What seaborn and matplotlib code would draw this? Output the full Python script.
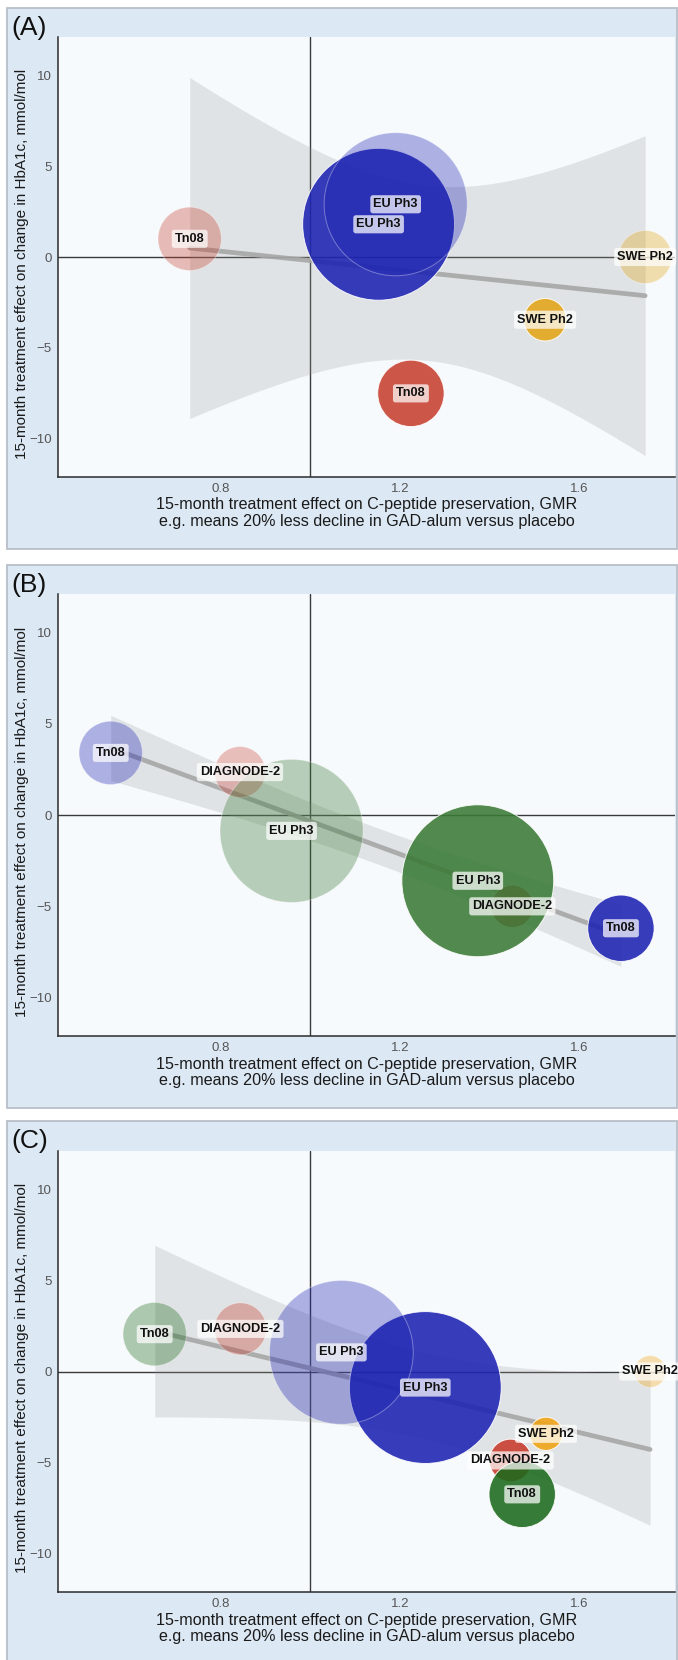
import math
import numpy as np
import pandas as pd
import matplotlib
matplotlib.use("Agg")
import matplotlib.pyplot as plt
from matplotlib.patches import Rectangle
import seaborn as sns

# ------------------------------------------------------------------
# Data: treatment effects per trial arm (x = GMR of C-peptide,
# y = change in HbA1c, n = arm size driving the bubble area)
# ------------------------------------------------------------------
trial_A = ["EU Ph3", "SWE Ph2", "Tn08", "Tn08", "EU Ph3", "SWE Ph2"]
tone_A = ["dark", "dark", "dark", "light", "light", "light"]
gmr_A = [1.152, 1.523, 1.224, 0.731, 1.190, 1.746]
hba1c_A = [1.8, -3.45, -7.5, 1.0, 2.9, 0.0]
n_A = [115, 9, 22, 20, 102, 14]

trial_B = ["DIAGNODE-2", "EU Ph3", "Tn08", "Tn08", "DIAGNODE-2", "EU Ph3"]
tone_B = ["dark", "dark", "dark", "light", "light", "light"]
gmr_B = [1.450, 1.373, 1.692, 0.555, 0.843, 0.958]
hba1c_B = [-5.0, -3.6, -6.2, 3.4, 2.35, -0.87]
n_B = [9, 115, 22, 20, 13, 102]

trial_C = ["EU Ph3", "DIAGNODE-2", "Tn08", "SWE Ph2",
           "Tn08", "DIAGNODE-2", "EU Ph3", "SWE Ph2"]
tone_C = ["dark", "dark", "dark", "dark", "light", "light", "light", "light"]
gmr_C = [1.256, 1.446, 1.472, 1.525, 0.653, 0.844, 1.069, 1.757]
hba1c_C = [-0.88, -4.88, -6.74, -3.42, 2.05, 2.34, 1.05, 0.0]
n_C = [115, 9, 22, 5.5, 20, 13.5, 103, 5]

panel_tags = ["(A)", "(B)", "(C)"]
x_ticks = [0.8, 1.2, 1.6]
x_tick_labels = ["0.8", "1.2", "1.6"]
y_ticks = [-10, -5, 0, 5, 10]
y_tick_labels = ["\u221210", "\u22125", "0", "5", "10"]
x_title = ("15-month treatment effect on C-peptide preservation, GMR\n"
           "e.g. means 20% less decline in GAD-alum versus placebo")
y_title = "15-month treatment effect on change in HbA1c, mmol/mol"

palette_A = {"Tn08": "#c7402f", "EU Ph3": "#1c22b2", "SWE Ph2": "#e2a517"}
palette_B = {"Tn08": "#1c22b2", "DIAGNODE-2": "#cc4a3e", "EU Ph3": "#3a7a36"}
palette_C = {"Tn08": "#1b691b", "DIAGNODE-2": "#c83a2b",
             "EU Ph3": "#1c22b2", "SWE Ph2": "#f0a312"}

# ------------------------------------------------------------------
# Styling / layout
# ------------------------------------------------------------------
sns.set_theme(style="white")
plt.rcParams["font.family"] = ["Liberation Sans", "DejaVu Sans"]
plt.rcParams["axes.unicode_minus"] = True

W, H = 678, 1660
fig = plt.figure(figsize=(W / 100, H / 100), dpi=100, facecolor="white")

PANEL_BG = "#dce8f4"
PANEL_EDGE = "#b8bfc7"
PLOT_BG = "#f7fafd"
SIZE_PER_N = 104.0          # marker area (pt^2) per unit of n
N_REF = 120.0

# (box top, box bottom, axes top, axes bottom) in pixels
layout = [(8, 549, 37, 477), (565, 1108, 594, 1036), (1121, 1672, 1151, 1592)]
AX_LEFT, AX_RIGHT = 58, 675
XLIM = (0.4375, 1.8125)
YLIM = (-12.1, 12.1)


def t_quantile(p, dof):
    """Student t quantile via numerical integration of the density."""
    xs = np.linspace(0.0, 40.0, 400001)
    c = math.gamma((dof + 1) / 2) / (math.sqrt(dof * math.pi) * math.gamma(dof / 2))
    pdf = c * (1 + xs ** 2 / dof) ** (-(dof + 1) / 2)
    dx = xs[1] - xs[0]
    cdf = 0.5 + np.concatenate([[0.0], np.cumsum((pdf[1:] + pdf[:-1]) / 2 * dx)])
    return float(xs[np.searchsorted(cdf, p)])


def ols_band(x, y, grid):
    x = np.asarray(x, float)
    y = np.asarray(y, float)
    n = len(x)
    mx = x.mean()
    sxx = ((x - mx) ** 2).sum()
    b = ((x - mx) * (y - y.mean())).sum() / sxx
    a = y.mean() - b * mx
    resid = y - (a + b * x)
    s = math.sqrt((resid ** 2).sum() / (n - 2))
    t = t_quantile(0.975, n - 2)
    fit = a + b * grid
    half = t * s * np.sqrt(1.0 / n + (grid - mx) ** 2 / sxx)
    return fit, fit - half, fit + half


panels = [
    (trial_A, tone_A, gmr_A, hba1c_A, n_A, palette_A),
    (trial_B, tone_B, gmr_B, hba1c_B, n_B, palette_B),
    (trial_C, tone_C, gmr_C, hba1c_C, n_C, palette_C),
]

for (trial, tone, gmr, hba1c, n, pal), tag, (bt, bb, at, ab) in zip(panels, panel_tags, layout):
    df = pd.DataFrame({"trial": trial, "tone": tone, "gmr": gmr, "hba1c": hba1c, "n": n})

    # panel background box (behind the axes)
    fig.patches.append(Rectangle((7 / W, 1 - bb / H), (677 - 7) / W, (bb - bt) / H,
                                 transform=fig.transFigure, facecolor=PANEL_BG,
                                 edgecolor=PANEL_EDGE, linewidth=1.3, zorder=-5))
    fig.text(11 / W, 1 - (bt + 20) / H, tag, fontsize=19, ha="left", va="center",
             color="#111111")

    ax = fig.add_axes([AX_LEFT / W, 1 - ab / H, (AX_RIGHT - AX_LEFT) / W, (ab - at) / H])
    ax.set_zorder(1)
    ax.set_facecolor(PLOT_BG)
    ax.set_xlim(*XLIM)
    ax.set_ylim(*YLIM)

    # reference lines
    ax.axhline(0, color="#3a3a3a", lw=1.0, zorder=1)
    ax.axvline(1.0, color="#3a3a3a", lw=1.0, zorder=1)

    # linear fit with 95% confidence band
    grid = np.linspace(df["gmr"].min(), df["gmr"].max(), 200)
    fit, lo, hi = ols_band(df["gmr"], df["hba1c"], grid)
    ax.fill_between(grid, lo, hi, color="#9a9a9a", alpha=0.24, lw=0, zorder=2)
    sns.lineplot(x=grid, y=fit, ax=ax, color="#a6a6a6", lw=3.4, alpha=0.9, zorder=3)

    # bubbles: solid arms first, translucent arms on top
    for tn, alpha in (("dark", 0.88), ("light", 0.34)):
        sub = df[df["tone"] == tn]
        sns.scatterplot(data=sub, x="gmr", y="hba1c", hue="trial", palette=pal,
                        size="n", sizes=(0, N_REF * SIZE_PER_N), size_norm=(0, N_REF),
                        alpha=alpha, edgecolor="white", linewidth=0.7,
                        legend=False, ax=ax, zorder=4)

    # labels
    for _, r in df.iterrows():
        ax.text(r["gmr"], r["hba1c"], r["trial"], ha="center", va="center",
                fontsize=9.2, fontweight="bold", color="#111111", zorder=6,
                bbox=dict(boxstyle="round,pad=0.24,rounding_size=0.2",
                          facecolor="white", edgecolor="none", alpha=0.72))

    # axes decoration
    for side in ("top", "right"):
        ax.spines[side].set_visible(False)
    for side in ("left", "bottom"):
        ax.spines[side].set_color("#2b2b2b")
        ax.spines[side].set_linewidth(1.1)
    ax.set_xticks(x_ticks)
    ax.set_xticklabels(x_tick_labels)
    ax.set_yticks(y_ticks)
    ax.set_yticklabels(y_tick_labels)
    ax.tick_params(axis="both", length=3, width=0.8, color="#333333",
                   labelcolor="#555555", labelsize=9.5, pad=1.5)
    ax.set_xlabel(x_title, fontsize=11.6, color="#1a1a1a", linespacing=1.15)
    ax.set_ylabel(y_title, fontsize=11.0, color="#1a1a1a")
    h = ab - at
    ax.xaxis.set_label_coords(0.5, -20.5 / h)
    ax.yaxis.set_label_coords(-29.0 / (AX_RIGHT - AX_LEFT), 0.485)

fig.savefig("out.png", dpi=100, facecolor="white")
